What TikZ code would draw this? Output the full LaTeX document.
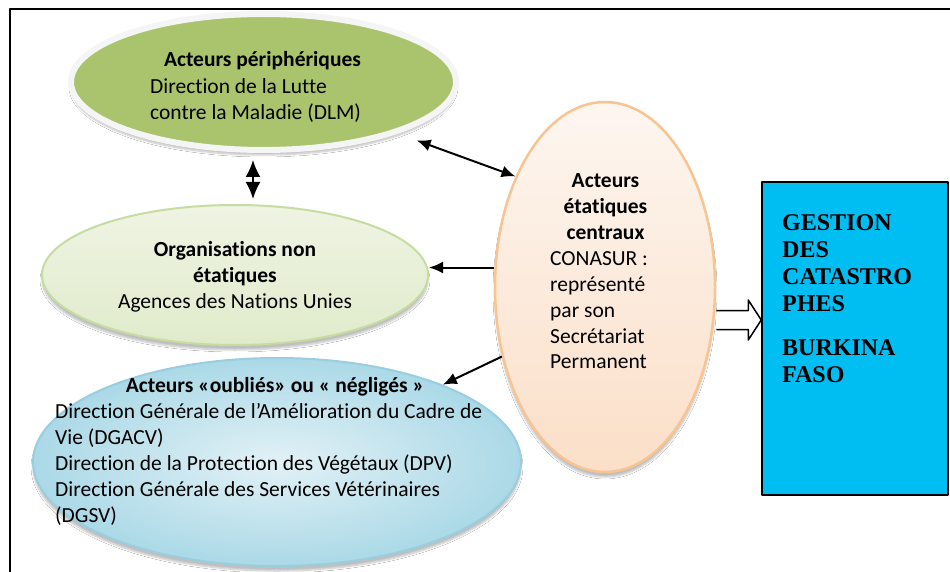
\documentclass[tikz,border=0pt]{standalone}
\usepackage{fontspec}
\setmainfont{Carlito}[Ligatures=CommonOff]
\newfontfamily\boxfont{Liberation Serif}
\usetikzlibrary{arrows.meta,shapes.geometric,shadows.blur}

\definecolor{periGreen}{HTML}{A9C46C}
\definecolor{ngoFill}{HTML}{EFF4E3}
\definecolor{ngoDark}{HTML}{E0EBCB}
\definecolor{ngoLine}{HTML}{C6DCA0}
\definecolor{forgotIn}{HTML}{E2F1F6}
\definecolor{forgotOut}{HTML}{ABD9E7}
\definecolor{forgotLine}{HTML}{98CEDF}
\definecolor{centralTop}{HTML}{FDF6F0}
\definecolor{centralBot}{HTML}{FBDFC8}
\definecolor{centralLine}{HTML}{F8C491}
\definecolor{boxBlue}{HTML}{00BDF2}

\begin{document}
\begin{tikzpicture}[x=1pt, y=-1pt, line join=round,
  actor/.style={ellipse, inner sep=0pt},
  softshadow/.style={blur shadow={shadow xshift=0pt, shadow yshift=-5pt, shadow opacity=25, shadow blur steps=8}},
  txt/.style={font=\fontsize{21.5}{26}\selectfont, inner sep=0pt},
  biarrow/.style={line width=2pt, {Latex[length=14pt,width=12pt]}-{Latex[length=14pt,width=12pt]}},
  onearrow/.style={line width=2pt, -{Latex[length=14pt,width=12pt]}}]

  \useasboundingbox (0,0) rectangle (950,572);
  \fill[white] (0,0) rectangle (950,572);

  % Draw frame
  \draw[line width=2pt] (10,572) -- (10,9) -- (950,9);

  % Draw the actors
  \node[actor, minimum width=385pt, minimum height=136pt, draw=gray!8, line width=6pt, fill=periGreen, softshadow] (peri) at (263.5,82) {};
  \node[actor, minimum width=386pt, minimum height=140pt, draw=ngoLine, line width=2pt, top color=ngoFill, bottom color=ngoDark, softshadow] (ngo) at (235,275) {};
  \node[actor, minimum width=488pt, minimum height=208pt, draw=forgotLine, line width=2pt, inner color=forgotIn, outer color=forgotOut, softshadow] (forgot) at (277,462) {};
  \node[actor, minimum width=220pt, minimum height=370pt, draw=centralLine, line width=2.5pt, top color=centralTop, bottom color=centralBot, softshadow] (central) at (605,287) {};

  % Draw the box
  \node[draw, line width=1.5pt, fill=boxBlue, minimum width=186pt, minimum height=313pt, inner sep=0pt] (box) at (855,338.5) {};

  % Connectors
  \draw[biarrow, shorten >=20pt] (central.129) -- (peri.-21);
  \draw[line width=2pt, {Latex[length=17pt,width=15pt]}-{Latex[length=17pt,width=15pt]}, shorten <=7pt, shorten >=5pt]
    ([xshift=-10.5pt]peri.south) -- ([xshift=-10.5pt]peri.south |- ngo.north);
  \draw[onearrow] (central.170) -- (central.170 -| ngo.east);
  \draw[onearrow] (central.214) -- (forgot.25);

  % Hollow arrow to the box
  \coordinate (tip) at ([yshift=18.5pt]box.west);
  \draw[line width=1.5pt, fill=white] ([yshift=9.5pt]tip -| central.east) -- ([shift={(-13pt,9.5pt)}]tip)
    -- ([shift={(-13pt,20pt)}]tip) -- (tip) -- ([shift={(-13pt,-20pt)}]tip)
    -- ([shift={(-13pt,-9.5pt)}]tip) -- ([yshift=-9.5pt]tip -| central.east);

  % Texts
  \node[txt, anchor=base] (periHead) at (262.5,67) {\bfseries Acteurs périphériques};
  \node[txt, anchor=base west] (periBody) at (150,94)
    {\begin{tabular}[t]{@{}l@{}}Direction de la Lutte\\contre la Maladie (DLM)\end{tabular}};

  \node[txt, anchor=base] (ngoText) at (235,256)
    {\begin{tabular}[t]{@{}c@{}}\bfseries Organisations non\\\bfseries étatiques\\Agences des Nations Unies\end{tabular}};

  \node[txt, anchor=base] (forgotHead) at (275,392) {\bfseries Acteurs «oubliés» ou « négligés »};
  \node[txt, anchor=base west] (forgotBody) at (55,418)
    {\begin{tabular}[t]{@{}l@{}}Direction Générale de l’Amélioration du Cadre de\\Vie (DGACV)\\Direction de la Protection des Végétaux (DPV)\\Direction Générale des Services Vétérinaires\\(DGSV)\end{tabular}};

  \node[txt, anchor=base] (centralHead) at (605.5,188)
    {\begin{tabular}[t]{@{}c@{}}\bfseries Acteurs\\\bfseries étatiques\\\bfseries centraux\end{tabular}};
  \node[txt, anchor=base west] (centralBody) at (550,265)
    {\begin{tabular}[t]{@{}l@{}}CONASUR :\\représenté\\par son\\Secrétariat\\Permanent\end{tabular}};

  \node[anchor=base west, inner sep=0pt, font=\boxfont\bfseries\fontsize{24}{27}\selectfont] (boxText) at (782,230)
    {\begin{tabular}[t]{@{}l@{}}GESTION\\DES\\CATASTRO\\PHES\\[17pt]BURKINA\\FASO\end{tabular}};

\end{tikzpicture}
\end{document}
